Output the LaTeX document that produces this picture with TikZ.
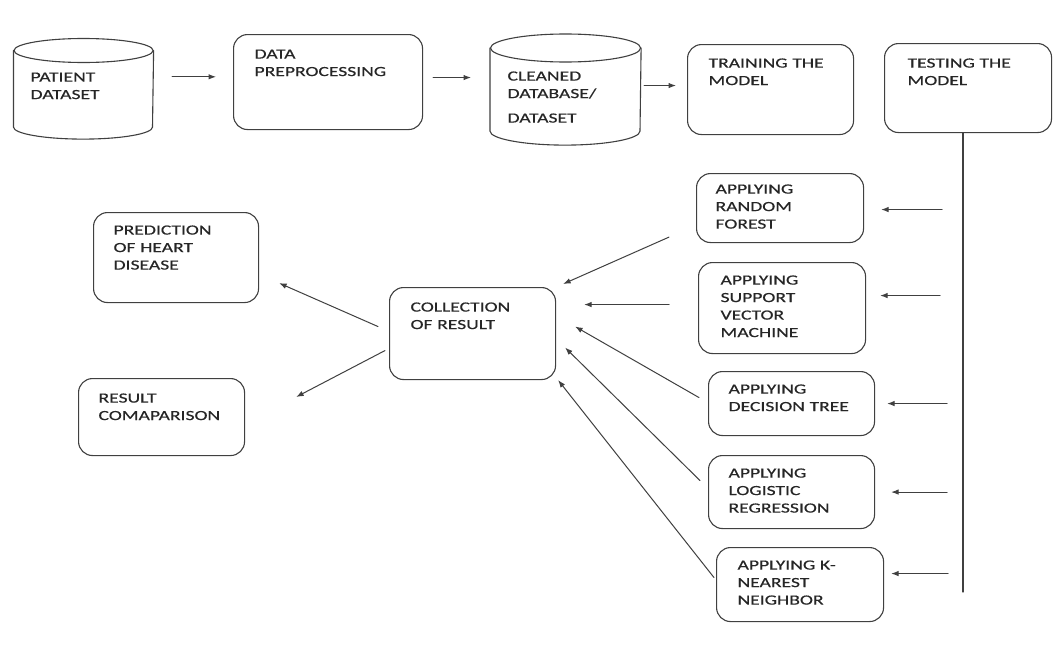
\documentclass[tikz,border=0pt]{standalone}
\usepackage{fontspec}
\setmainfont{Carlito}[FakeStretch=1.4, FakeBold=0.4]
\usepackage{tikz}
\usetikzlibrary{arrows.meta}
\usetikzlibrary{positioning}
\definecolor{inkgray}{rgb}{0.25,0.25,0.25}
\tikzset{
  box/.style={draw=inkgray, line width=1.1pt, rounded corners=14pt, anchor=north west,
    align=left, inner ysep=0pt, text=black!85, font=\fontsize{14}{17.5}\selectfont},
  dbase/.style={box, draw=none},
  outline/.style={draw=inkgray, line width=1.1pt},
  flow/.style={draw=inkgray, line width=1pt, -{Latex[length=7.5pt, width=5.5pt]}}
}
\newcommand{\dbcyl}[3]{%
  \draw[outline] ([yshift=-#3]#1.north west) -- ([yshift=#3]#1.south west)
    arc[start angle=180, end angle=360, x radius=#2, y radius=#3]
    -- ([yshift=-#3]#1.north east);
  \draw[outline] ([yshift=-#3]#1.north) ellipse [x radius=#2, y radius=#3];
}
\begin{document}
\begin{tikzpicture}[line cap=round, line join=round, x=1pt, y=-1pt]
\fill[white] (0,0) rectangle (1059,645);
% top row
\node[dbase, inner xsep=16.5pt, text width=106pt, text height=42.5pt, text depth=57pt] (patient) at (13.5,38.5) {PATIENT\\DATASET};
\node[box, inner xsep=21pt, text width=147pt, text height=24pt, text depth=71pt] (prep) at (233,34) {DATA\\PREPROCESSING};
\node[dbase, inner xsep=17pt, text width=116pt, text height=46pt, text depth=64pt] (cleaned) at (490,34) {CLEANED\\DATABASE/\\[7pt]DATASET};
\node[box, inner xsep=21pt, text width=124pt, text height=23pt, text depth=67pt] (training) at (687,44) {TRAINING THE\\MODEL};
\node[box, inner xsep=23pt, text width=121pt, text height=24pt, text depth=65pt] (testing) at (884,43) {TESTING THE\\MODEL};
\dbcyl{patient}{69.5pt}{12pt}
\dbcyl{cleaned}{75pt}{14pt}
% algorithms
\node[box, inner xsep=19pt, text width=129pt, text height=20pt, text depth=49pt] (rf) at (696,173) {APPLYING\\RANDOM\\FOREST};
\node[box, inner xsep=22pt, text width=123pt, text height=22pt, text depth=69pt] (svm) at (698,262) {APPLYING\\SUPPORT\\VECTOR\\MACHINE};
\node[box, inner xsep=20pt, text width=126pt, text height=22pt, text depth=42pt] (dt) at (708,371) {APPLYING\\DECISION TREE};
\node[box, inner xsep=20pt, text width=126pt, text height=22pt, text depth=51pt] (lr) at (708,455) {APPLYING\\LOGISTIC\\REGRESSION};
\node[box, inner xsep=21pt, text width=125pt, text height=22pt, text depth=52pt] (knn) at (716,547) {APPLYING K-\\NEAREST\\NEIGHBOR};
% results
\node[box, inner xsep=21pt, text width=124pt, text height=24pt, text depth=68pt] (coll) at (389,287) {COLLECTION\\OF RESULT};
\node[box, inner xsep=20pt, text width=125pt, text height=22pt, text depth=68pt] (pred) at (93,212) {PREDICTION\\OF HEART\\DISEASE};
\node[box, inner xsep=20pt, text width=126pt, text height=24pt, text depth=53pt] (res) at (78,378) {RESULT\\COMAPARISON};
\coordinate (lineend) at (963,592);
\draw[outline] (testing.south -| lineend) -- (lineend);
\draw[flow, shorten <=18.5pt, shorten >=17pt] ([yshift=12pt]patient.east) -- ([yshift=12pt]patient.east -| prep.west);
\draw[flow, shorten <=10pt, shorten >=19pt] ([yshift=4.5pt]prep.east) -- ([yshift=4.5pt]prep.east -| cleaned.west);
\draw[flow, shorten <=3pt, shorten >=11pt] ([yshift=4pt]cleaned.east) -- ([yshift=4pt]cleaned.east -| training.west);
\draw[flow, shorten <=21pt, shorten >=17pt] ([yshift=-1.5pt]rf.east -| lineend) -- ([yshift=-1.5pt]rf.east);
\draw[flow, shorten <=23pt, shorten >=14pt] ([yshift=12.5pt]svm.east -| lineend) -- ([yshift=12.5pt]svm.east);
\draw[flow, shorten <=16pt, shorten >=12pt] (dt.east -| lineend) -- (dt.east);
\draw[flow, shorten <=16pt, shorten >=16pt] (lr.east -| lineend) -- (lr.east);
\draw[flow, shorten <=15pt, shorten >=7pt] ([yshift=11pt]knn.east -| lineend) -- ([yshift=11pt]knn.east);
\draw[flow] ([shift={(-27pt,6pt)}]rf.south west) -- ([shift={(7pt,3pt)}]coll.north east);
\draw[flow, shorten <=29pt, shorten >=28pt] ([yshift=3.5pt]svm.west) -- ([yshift=3.5pt]svm.west -| coll.east);
\draw[flow] ([shift={(-9pt,6pt)}]dt.west) -- ([shift={(19pt,7pt)}]coll.east);
\draw[flow] ([shift={(-8pt,11.5pt)}]lr.west) -- ([shift={(9pt,-14pt)}]coll.east);
\draw[flow] ([shift={(-2pt,7pt)}]knn.west) -- ([shift={(2pt,0pt)}]coll.south east);
\draw[flow] ([shift={(-11pt,7pt)}]coll.west) -- ([shift={(20pt,20pt)}]pred.south east);
\draw[flow] ([shift={(-4pt,-17pt)}]coll.west) -- ([shift={(51pt,-19pt)}]res.north east);
\end{tikzpicture}
\end{document}
